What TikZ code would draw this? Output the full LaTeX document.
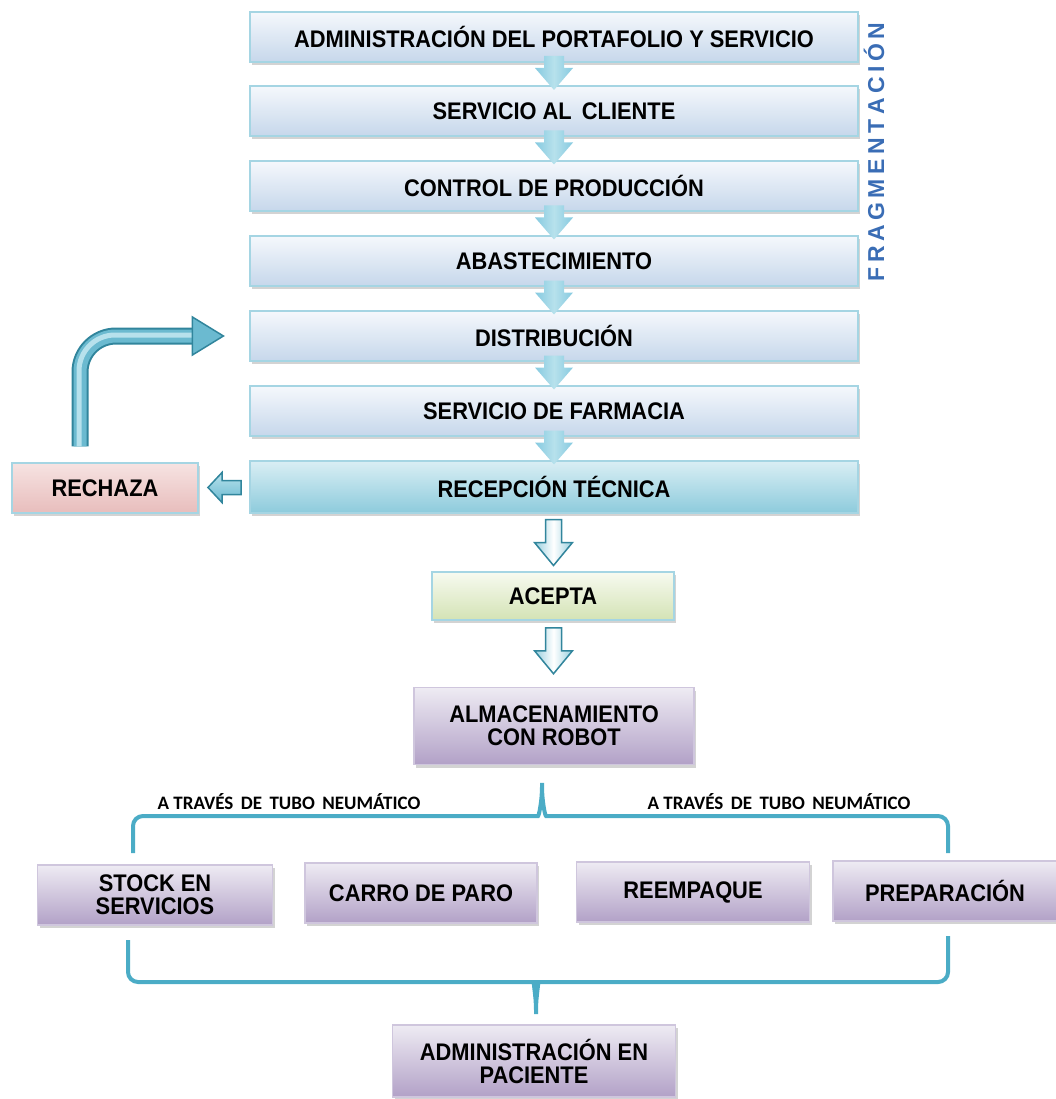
\documentclass[tikz,border=0pt]{standalone}
\usepackage{fontspec}
\setmainfont{Liberation Sans}[FakeStretch=0.91]
\newfontfamily\fragfont{Liberation Sans}
\newfontfamily\notefont{Carlito}
\usetikzlibrary{shadows,calc}

\definecolor{boxline}{HTML}{A5D5E3}
\definecolor{boxtop}{HTML}{F5F8FC}
\definecolor{boxbot}{HTML}{C6D7EB}
\definecolor{receptop}{HTML}{D9EEF4}
\definecolor{recepbot}{HTML}{8DCBDC}
\definecolor{rejtop}{HTML}{F6E3E2}
\definecolor{rejbot}{HTML}{E8BDBC}
\definecolor{oktop}{HTML}{F7FAF0}
\definecolor{okbot}{HTML}{D4E3B5}
\definecolor{lilatop}{HTML}{EEEBF3}
\definecolor{lilabot}{HTML}{B2A1C7}
\definecolor{lilaline}{HTML}{CFC6DD}
\definecolor{gapblue}{HTML}{86CAE0}
\definecolor{tealdark}{HTML}{31859C}
\definecolor{tealmid}{HTML}{6BBAD0}
\definecolor{teallight}{HTML}{B7E1EC}
\definecolor{bracecol}{HTML}{4BACC6}
\definecolor{fragblue}{HTML}{3A6DB5}

\tikzset{
  pics/gaparrow/.style={code={
    \shade[left color=gapblue, right color=gapblue, middle color=teallight]
      (-10,-18) -- (10,-18) -- (10,-6) -- (19,-6) -- (0,16) -- (-19,-6) -- (-10,-6) -- cycle;
  }},
  pics/hollowarrow/.style={code={
    \shade[draw=tealdark, line width=1.5pt, left color=tealmid!70, right color=tealmid!70, middle color=white]
      (-8,-23) -- (8,-23) -- (8,0) -- (19,0) -- (0,23) -- (-19,0) -- (-8,0) -- cycle;
  }},
  pics/backarrow/.style={code={
    \shade[draw=tealdark, line width=1.5pt, top color=teallight, bottom color=tealmid]
      (17,-7) -- (17,7) -- (-2,7) -- (-2,15) -- (-16,0) -- (-2,-15) -- (-2,-7) -- cycle;
  }}
}

\begin{document}
\begin{tikzpicture}[x=1pt,y=-1pt,
    boxshadow/.style={drop shadow={shadow xshift=2pt,shadow yshift=-3pt,opacity=.35}},
    stepbox/.style={draw=boxline, line width=1.2pt, top color=boxtop, bottom color=boxbot,
      minimum width=608pt, minimum height=50pt, boxshadow,
      font=\fontsize{24}{23}\selectfont\bfseries},
    recepbox/.style={stepbox, top color=receptop, bottom color=recepbot, minimum height=52pt},
    rejbox/.style={stepbox, top color=rejtop, bottom color=rejbot, minimum width=186pt},
    okbox/.style={stepbox, top color=oktop, bottom color=okbot, minimum width=242pt, minimum height=48pt},
    lilabox/.style={stepbox, draw=lilaline, top color=lilatop, bottom color=lilabot, align=center},
    bracket/.style={draw=bracecol, line width=4pt, rounded corners=10pt},
    tubelabel/.style={font=\notefont\fontsize{19}{19}\selectfont\bfseries}]
    \useasboundingbox (0,0) rectangle (1056,1099);

    % chain of the upper boxes
    \node[stepbox](adm)at(554,37){ADMINISTRACIÓN DEL PORTAFOLIO Y SERVICIO};
    \node[stepbox](cli)at(554,111){SERVICIO AL\ \,CLIENTE};
    \node[stepbox](ctrl)at(554,186){CONTROL DE PRODUCCIÓN};
    \node[stepbox](abas)at(554,261){ABASTECIMIENTO};
    \node[stepbox](dist)at(554,336){DISTRIBUCIÓN};
    \node[stepbox](farm)at(554,411){SERVICIO DE FARMACIA};
    \node[recepbox](recep)at(554,487){RECEPCIÓN TÉCNICA};
    \foreach \a/\b in {adm/cli, cli/ctrl, ctrl/abas, abas/dist, dist/farm, farm/recep}
        \pic at ($(\a.south)!.5!(\b.north)$) {gaparrow};

    \node[rotate=90, text=fragblue, font=\fragfont\fontsize{23}{23}\selectfont\bfseries](frag)at(874,152)
        {F\kern4.5pt R\kern4.5pt A\kern4.5pt G\kern4.5pt M\kern4.5pt E\kern4.5pt N\kern4.5pt T\kern4.5pt A\kern4.5pt C\kern4.5pt I\kern4.5pt Ó\kern4.5pt N};

    % rejected goes back to distribution
    \node[rejbox](rech)at(105,488){RECHAZA\hspace{22pt}};
    \pic at ($(rech.east)!.5!(recep.west)$) {backarrow};
    \coordinate(bendfrom)at($(rech.north)+(-25,-16)$);
    \coordinate(bendto)at($(dist.west)+(-26,0)$);
    \draw[line width=17pt, tealdark, rounded corners=36pt](bendfrom)|-($(bendto)+(-29,0)$);
    \draw[line width=13pt, tealmid, rounded corners=36pt](bendfrom)|-($(bendto)+(-29,0)$);
    \draw[line width=5pt, teallight, rounded corners=36pt]($(bendfrom)+(-1,0)$)|-($(bendto)+(-29,-1)$);
    \filldraw[fill=tealmid, draw=tealdark, line width=1.5pt](bendto)--++(-31,-19)--++(0,38)--cycle;

    % accepted goes on
    \node[okbox](acep)at(553,596){ACEPTA};
    \node[lilabox, minimum width=280pt, minimum height=77pt](almac)at(554,726){ALMACENAMIENTO\\CON ROBOT};
    \pic at ($(recep.south)!.5!(acep.north)$) {hollowarrow};
    \pic at ($(acep.south)!.5!(almac.north)+(0,-3)$) {hollowarrow};

    \node[tubelabel](tubeL)at(289,802){A TRAVÉS\, DE\, TUBO\, NEUMÁTICO};
    \node[tubelabel](tubeR)at(779,802){A TRAVÉS\, DE\, TUBO\, NEUMÁTICO};
    \draw[bracket](133,853)--(133,816)--(528,816)..controls(539,816)and(542,800)..(542,777)
        ..controls(542,800)and(545,816)..(556,816)--(948,816)--(948,853);

    \node[lilabox, minimum width=235pt, minimum height=60pt](stock)at(155,895){STOCK EN\\SERVICIOS};
    \node[lilabox, minimum width=232pt, minimum height=60pt](carro)at(421,893){CARRO DE PARO};
    \node[lilabox, minimum width=233pt, minimum height=60pt](reemp)at(693,892){REEMPAQUE};
    \node[lilabox, minimum width=224pt, minimum height=60pt](prep)at(945,891){PREPARACIÓN};

    \draw[bracket](128,940)--(128,982)--(524,982)..controls(533,982)and(536,996)..(536,1020)
        ..controls(536,996)and(539,982)..(548,982)--(948,982)--(948,936);
    \node[lilabox, minimum width=283pt, minimum height=72pt](pac)at(534,1061){ADMINISTRACIÓN EN\\PACIENTE};
\end{tikzpicture}
\end{document}
